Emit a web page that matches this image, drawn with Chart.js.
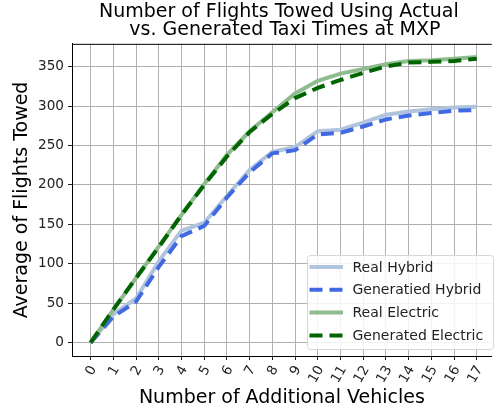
<!DOCTYPE html>
<html>
<head>
<meta charset="utf-8">
<script src="https://cdn.jsdelivr.net/npm/chart.js@4.4.1/dist/chart.umd.min.js"></script>
<style>
  html, body { margin: 0; padding: 0; background: #fff; }
</style>
</head>
<body>
<canvas id="towed" width="494" height="410"></canvas>
<script>
const vehicles = [0, 1, 2, 3, 4, 5, 6, 7, 8, 9, 10, 11, 12, 13, 14, 15, 16, 17]
const yTicks = [0, 50, 100, 150, 200, 250, 300, 350]

const realHybrid = [0, 36, 56, 103, 142, 152, 186, 219, 242, 248, 268, 270, 279, 289, 293, 296, 298, 299]
const generatedHybrid = [0, 33, 52, 96, 135, 148, 184, 216, 240, 244, 264, 266, 274, 283, 288, 291, 294, 295]
const realElectric = [0, 42, 82, 122, 162, 201, 238, 268, 292, 316, 332, 341, 347, 353, 357, 358, 360, 362]
const generatedElectric = [0, 42, 82, 121, 162, 200, 236, 267, 290, 310, 323, 333, 342, 350, 355, 356, 357, 360]

const font = 'DejaVu Sans'

function toPoints(values) {
    return values.map((v, i) => ({x: vehicles[i], y: v}))
}

function lineSet(label, values, color, dashed, order) {
    return {
        label: label,
        data: toPoints(values),
        borderColor: color,
        backgroundColor: color,
        borderWidth: 4,
        borderDash: dashed ? [13, 7] : [],
        pointRadius: 0,
        tension: 0,
        fill: false,
        order: order
    }
}

// top spine + matplotlib style legend box
const framePlugin = {
    id: 'framePlugin',
    afterDraw(chart) {
        const {ctx, chartArea} = chart
        ctx.save()
        ctx.strokeStyle = '#000'
        ctx.lineWidth = 1
        ctx.beginPath()
        ctx.moveTo(chartArea.left, chartArea.top + 0.5)
        ctx.lineTo(chartArea.right, chartArea.top + 0.5)
        ctx.stroke()

        const bx = 307, by = 255, bw = 186, bh = 94, r = 3
        ctx.beginPath()
        ctx.roundRect(bx + 0.5, by + 0.5, bw, bh, r)
        ctx.fillStyle = 'rgba(255,255,255,0.85)'
        ctx.fill()
        ctx.strokeStyle = '#d6d6d6'
        ctx.stroke()

        ctx.font = '14px "' + font + '"'
        ctx.textBaseline = 'middle'
        ctx.textAlign = 'left'
        chart.data.datasets.forEach((ds, i) => {
            const rowY = 267 + i * 22.8
            ctx.beginPath()
            ctx.setLineDash(ds.borderDash)
            ctx.strokeStyle = ds.borderColor
            ctx.lineWidth = ds.borderWidth
            ctx.moveTo(309.5, rowY)
            ctx.lineTo(343, rowY)
            ctx.stroke()
            ctx.setLineDash([])
            ctx.fillStyle = '#222'
            ctx.fillText(ds.label, 352.5, rowY + 1)
        })
        ctx.restore()
    }
}

new Chart(document.getElementById('towed'), {
    type: 'line',
    data: {
        datasets: [
            lineSet('Real Hybrid', realHybrid, '#b0c4de', false, 3),
            lineSet('Generatied Hybrid', generatedHybrid, '#4169e1', true, 2),
            lineSet('Real Electric', realElectric, '#8fbc8f', false, 1),
            lineSet('Generated Electric', generatedElectric, '#006400', true, 0)
        ]
    },
    options: {
        responsive: false,
        animation: false,
        layout: {padding: 0},
        plugins: {
            legend: {display: false},
            tooltip: {enabled: false},
            title: {
                display: true,
                fullSize: false,
                text: ['Number of Flights Towed Using Actual ', ' vs. Generated Taxi Times at MXP'],
                color: '#000',
                font: {family: font, size: 19, weight: 'normal', lineHeight: 0.93},
                padding: {top: 3.5, bottom: 5}
            }
        },
        scales: {
            x: {
                type: 'linear',
                min: -0.82,
                max: 17.66,
                afterBuildTicks: scale => { scale.ticks = vehicles.map(v => ({value: v})) },
                afterFit: scale => { scale.height = 54 },
                grid: {color: '#b0b0b0', lineWidth: 1, tickLength: 4, tickColor: '#222'},
                border: {color: '#000', width: 1},
                ticks: {
                    minRotation: 60,
                    maxRotation: 60,
                    autoSkip: false,
                    padding: 3,
                    labelOffset: 3,
                    color: '#222',
                    font: {family: font, size: 13.6},
                    callback: v => String(v)
                },
                title: {
                    display: true,
                    text: 'Number of Additional Vehicles',
                    color: '#000',
                    font: {family: font, size: 19},
                    padding: {top: 0, bottom: 0.9}
                }
            },
            y: {
                min: -16.9,
                max: 378.8,
                afterBuildTicks: scale => { scale.ticks = yTicks.map(v => ({value: v})) },
                afterFit: scale => { scale.width = 72 },
                grid: {color: '#b0b0b0', lineWidth: 1, tickLength: 4, tickColor: '#222'},
                border: {color: '#000', width: 1},
                ticks: {
                    padding: 4,
                    color: '#222',
                    font: {family: font, size: 13.6},
                    callback: v => String(v)
                },
                title: {
                    display: true,
                    text: 'Average of Flights Towed',
                    color: '#000',
                    font: {family: font, size: 19},
                    padding: {top: 11.1, bottom: 0}
                }
            }
        }
    },
    plugins: [framePlugin]
})
</script>
</body>
</html>
